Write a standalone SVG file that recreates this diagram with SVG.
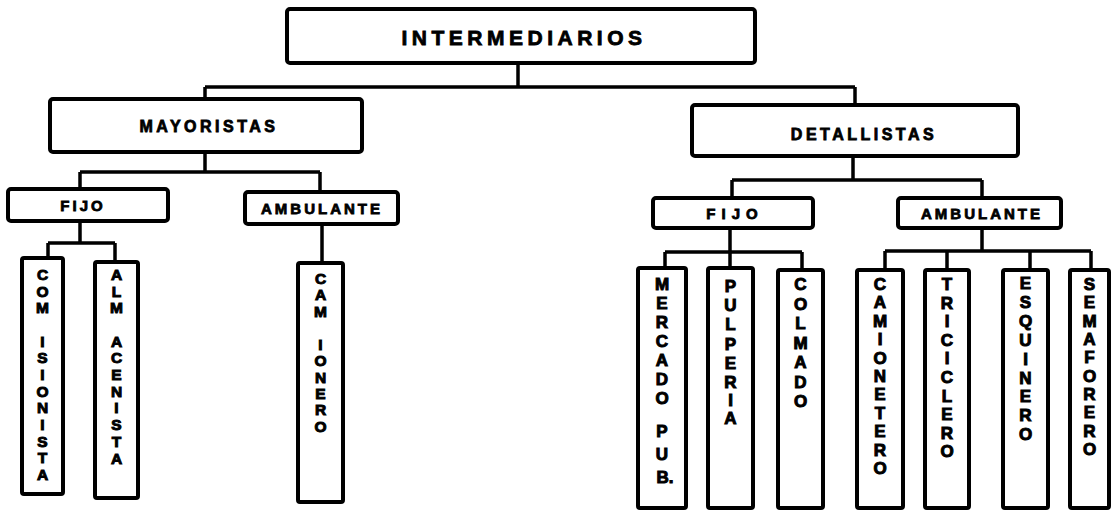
<svg xmlns="http://www.w3.org/2000/svg" width="1112" height="510" viewBox="0 0 1112 510">
<style>
.box{fill:#fff;stroke:#000;stroke-width:4;stroke-linejoin:round}
.con{fill:none;stroke:#000;stroke-width:3.5;stroke-linejoin:miter}
text{font-family:"Liberation Sans","DejaVu Sans",Arial,sans-serif;font-weight:bold;fill:#000;stroke:#000;stroke-width:0.8;text-anchor:middle}
.h1{font-size:21px;letter-spacing:4.5px}
.h2{font-size:16px;letter-spacing:3.5px}
.h3{font-size:15px;letter-spacing:3px}
.vl{font-size:15.5px;stroke-width:1}
.vr{font-size:17px;stroke-width:1}
</style>
<rect width="1112" height="510" fill="#fff"/>
<g id="connectors">
<path class="con" d="M518,63 V87 M205,87 H855 M205,87 V99 M855,87 V105"/>
<path class="con" d="M205,152 V172 M80,172 H320 M80,172 V189 M320,172 V192"/>
<path class="con" d="M80,221 V243 M48,243 H115 M48,243 V258 M115,243 V262"/>
<path class="con" d="M322,224 V263"/>
<path class="con" d="M853,156 V180 M732,180 H982 M732,180 V198 M982,180 V198"/>
<path class="con" d="M730,228 V252 M665,252 H802 M665,252 V268 M730,252 V268 M802,252 V270"/>
<path class="con" d="M982,228 V251 M885,251 H1091 M885,251 V270 M947,251 V270 M1030,251 V270 M1091,251 V270"/>
</g>
<g id="intermediarios">
<rect class="box" x="287" y="9" width="468" height="54" rx="3"/>
<text class="h1" x="524" y="45">INTERMEDIARIOS</text>
</g>
<g id="mayoristas">
<rect class="box" x="50" y="99" width="312" height="53" rx="3"/>
<text class="h2" x="209" y="132">MAYORISTAS</text>
</g>
<g id="detallistas">
<rect class="box" x="692" y="105" width="326" height="51" rx="3"/>
<text class="h2" x="864" y="140">DETALLISTAS</text>
</g>
<g id="may-fijo">
<rect class="box" x="8" y="189" width="160" height="32" rx="3"/>
<text class="h3" x="83" y="211">FIJO</text>
</g>
<g id="may-ambulante">
<rect class="box" x="245" y="192" width="153" height="32" rx="3"/>
<text class="h3" x="322" y="214">AMBULANTE</text>
</g>
<g id="det-fijo">
<rect class="box" x="653" y="198" width="160" height="30" rx="3"/>
<text class="h3" x="735" y="219" style="letter-spacing:6px">FIJO</text>
</g>
<g id="det-ambulante">
<rect class="box" x="898" y="198" width="163" height="30" rx="3"/>
<text class="h3" x="982" y="219">AMBULANTE</text>
</g>
<g id="comisionista">
<rect class="box" x="22" y="258" width="41" height="236" rx="2"/>
<text class="vl"><tspan x="42.5" y="280">C</tspan><tspan x="42.5" y="297">O</tspan><tspan x="42.5" y="313">M</tspan><tspan x="42.5" y="347">I</tspan><tspan x="42.5" y="363">S</tspan><tspan x="42.5" y="380">I</tspan><tspan x="42.5" y="397">O</tspan><tspan x="42.5" y="413">N</tspan><tspan x="42.5" y="430">I</tspan><tspan x="42.5" y="447">S</tspan><tspan x="42.5" y="463">T</tspan><tspan x="42.5" y="480">A</tspan></text>
</g>
<g id="almacenista">
<rect class="box" x="95" y="262" width="43" height="236" rx="2"/>
<text class="vl"><tspan x="116.5" y="280">A</tspan><tspan x="116.5" y="297">L</tspan><tspan x="116.5" y="313">M</tspan><tspan x="116.5" y="347">A</tspan><tspan x="116.5" y="363">C</tspan><tspan x="116.5" y="380">E</tspan><tspan x="116.5" y="397">N</tspan><tspan x="116.5" y="413">I</tspan><tspan x="116.5" y="430">S</tspan><tspan x="116.5" y="447">T</tspan><tspan x="116.5" y="464">A</tspan></text>
</g>
<g id="camionero">
<rect class="box" x="298" y="263" width="45" height="239" rx="2"/>
<text class="vl"><tspan x="320.5" y="284">C</tspan><tspan x="320.5" y="300">A</tspan><tspan x="320.5" y="317">M</tspan><tspan x="320.5" y="350">I</tspan><tspan x="320.5" y="366">O</tspan><tspan x="320.5" y="383">N</tspan><tspan x="320.5" y="399">E</tspan><tspan x="320.5" y="415">R</tspan><tspan x="320.5" y="432">O</tspan></text>
</g>
<g id="mercado-pub">
<rect class="box" x="638" y="268" width="48" height="240" rx="2"/>
<text class="vr"><tspan x="662" y="290">M</tspan><tspan x="662" y="309">E</tspan><tspan x="662" y="328">R</tspan><tspan x="662" y="347">C</tspan><tspan x="662" y="366">A</tspan><tspan x="662" y="385">D</tspan><tspan x="662" y="404">O</tspan><tspan x="662" y="437">P</tspan><tspan x="662" y="460">U</tspan><tspan x="665" y="483">B.</tspan></text>
</g>
<g id="pulperia">
<rect class="box" x="708" y="268" width="45" height="240" rx="2"/>
<text class="vr"><tspan x="730.5" y="292">P</tspan><tspan x="730.5" y="311">U</tspan><tspan x="730.5" y="330">L</tspan><tspan x="730.5" y="350">P</tspan><tspan x="730.5" y="369">E</tspan><tspan x="730.5" y="388">R</tspan><tspan x="730.5" y="406">I</tspan><tspan x="730.5" y="424">A</tspan></text>
</g>
<g id="colmado">
<rect class="box" x="778" y="270" width="45" height="238" rx="2"/>
<text class="vr"><tspan x="800.5" y="290">C</tspan><tspan x="800.5" y="310">O</tspan><tspan x="800.5" y="329">L</tspan><tspan x="800.5" y="349">M</tspan><tspan x="800.5" y="368">A</tspan><tspan x="800.5" y="388">D</tspan><tspan x="800.5" y="407">O</tspan></text>
</g>
<g id="camionetero">
<rect class="box" x="857" y="270" width="46" height="238" rx="2"/>
<text class="vr"><tspan x="880" y="290">C</tspan><tspan x="880" y="308">A</tspan><tspan x="880" y="327">M</tspan><tspan x="880" y="345">I</tspan><tspan x="880" y="364">O</tspan><tspan x="880" y="382">N</tspan><tspan x="880" y="400">E</tspan><tspan x="880" y="419">T</tspan><tspan x="880" y="437">E</tspan><tspan x="880" y="456">R</tspan><tspan x="880" y="474">O</tspan></text>
</g>
<g id="triciclero">
<rect class="box" x="925" y="270" width="44" height="238" rx="2"/>
<text class="vr"><tspan x="947" y="290">T</tspan><tspan x="947" y="309">R</tspan><tspan x="947" y="327">I</tspan><tspan x="947" y="346">C</tspan><tspan x="947" y="364">I</tspan><tspan x="947" y="383">C</tspan><tspan x="947" y="402">L</tspan><tspan x="947" y="420">E</tspan><tspan x="947" y="439">R</tspan><tspan x="947" y="457">O</tspan></text>
</g>
<g id="esquinero">
<rect class="box" x="1003" y="270" width="45" height="238" rx="2"/>
<text class="vr"><tspan x="1025.5" y="289">E</tspan><tspan x="1025.5" y="308">S</tspan><tspan x="1025.5" y="327">Q</tspan><tspan x="1025.5" y="346">U</tspan><tspan x="1025.5" y="365">I</tspan><tspan x="1025.5" y="384">N</tspan><tspan x="1025.5" y="402">E</tspan><tspan x="1025.5" y="421">R</tspan><tspan x="1025.5" y="440">O</tspan></text>
</g>
<g id="semaforero">
<rect class="box" x="1070" y="270" width="39" height="238" rx="2"/>
<text class="vr"><tspan x="1089.5" y="290">S</tspan><tspan x="1089.5" y="308">E</tspan><tspan x="1089.5" y="327">M</tspan><tspan x="1089.5" y="345">A</tspan><tspan x="1089.5" y="363">F</tspan><tspan x="1089.5" y="382">O</tspan><tspan x="1089.5" y="400">R</tspan><tspan x="1089.5" y="418">E</tspan><tspan x="1089.5" y="437">R</tspan><tspan x="1089.5" y="455">O</tspan></text>
</g>
</svg>
